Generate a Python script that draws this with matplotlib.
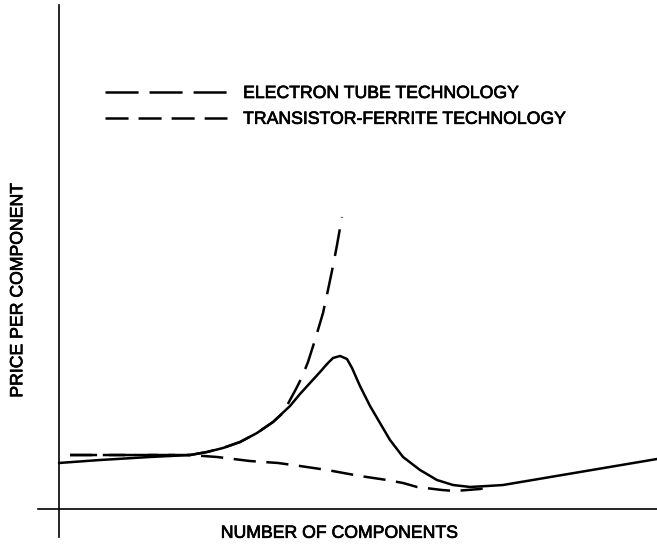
import matplotlib
matplotlib.use("Agg")
import matplotlib.pyplot as plt
import matplotlib.patheffects as pe
from matplotlib.lines import Line2D

plt.rcParams['font.family'] = ['Liberation Sans', 'DejaVu Sans']
plt.rcParams['lines.scale_dashes'] = False

# Schematic data (arbitrary units: x = number of components, y = price per component)
solid_x = [0, 6.86, 15.22, 21.91, 24.75, 27.42, 30.27, 33.11, 35.79, 38.63, 40.30, 41.97,
           43.65, 44.82, 45.82, 47.0, 48.16, 49.0, 50.33, 52.01, 53.68, 55.35, 57.53,
           60.37, 63.21, 65.89, 68.73, 71.57, 74.25, 100]
solid_y = [9.13, 9.72, 10.32, 10.71, 11.31, 12.10, 13.29, 15.08, 17.26, 20.44, 22.82, 25.0,
           27.18, 28.77, 29.96, 30.36, 29.76, 27.98, 24.40, 20.44, 17.06, 13.69, 10.32,
           7.74, 5.75, 4.76, 4.37, 4.56, 4.76, 9.92]

tube_x = [1.84, 15.22, 21.91, 24.75, 27.42, 30.27, 33.11, 35.79, 37.46, 38.63, 39.63,
          40.64, 41.64, 42.81, 44.15, 44.98, 45.82, 46.49, 47.32]
tube_y = [10.71, 10.71, 10.71, 11.31, 12.10, 13.29, 15.08, 17.26, 19.05, 21.63, 23.81,
          26.19, 29.17, 33.53, 38.89, 43.45, 48.21, 52.38, 57.94]

trans_x = [1.84, 15.22, 21.91, 26.42, 31.94, 36.62, 40.30, 44.82, 50.33, 54.85, 57.53,
           59.87, 64.05, 66.22, 70.40, 72.41]
trans_y = [10.71, 10.71, 10.71, 10.32, 9.52, 9.13, 8.53, 7.74, 6.55, 5.75, 5.16,
           4.37, 3.77, 3.57, 3.97, 4.37]

labels = ["ELECTRON TUBE TECHNOLOGY", "TRANSISTOR-FERRITE TECHNOLOGY"]
x_label = "NUMBER OF COMPONENTS"
y_label = "PRICE PER COMPONENT"

fig = plt.figure(figsize=(6.57, 5.55), dpi=100)
ax = fig.add_axes([0, 0, 1, 1])
ax.set_xlim(-9.866, 100)
ax.set_ylim(-9.127, 100.99)

lw = 1.8
ax.plot(solid_x, solid_y, color='black', lw=lw, solid_capstyle='round',
        solid_joinstyle='round')
ax.plot(tube_x, tube_y, color='black', lw=lw, dashes=(19.5, 8.6), dash_joinstyle='round')
ax.plot(trans_x, trans_y, color='black', lw=lw, dashes=(16.0, 7.6), dash_joinstyle='round')

# axes lines
for s in ['top', 'right']:
    ax.spines[s].set_visible(False)
ax.spines['left'].set_position(('data', 0))
ax.spines['bottom'].set_position(('data', 0))
ax.spines['left'].set_bounds(-5.56, 100)
ax.spines['bottom'].set_bounds(-3.51, 100)
ax.spines['left'].set_linewidth(1.2)
ax.spines['bottom'].set_linewidth(1.2)
ax.set_xticks([])
ax.set_yticks([])
ax.patch.set_alpha(0)

fs = 12.7
heavy = [pe.withStroke(linewidth=0.5, foreground='black')]
ax.text(0.517, 0.031, x_label, transform=ax.transAxes, ha='center', va='baseline',
        fontsize=fs, path_effects=heavy)
ax.text(0.027, 0.477, y_label, transform=ax.transAxes, ha='center', va='center',
        rotation=90, fontsize=fs, path_effects=heavy)

h1 = Line2D([], [], color='black', lw=lw, dashes=(23.8, 7.9))
h2 = Line2D([], [], color='black', lw=lw, dashes=(16.6, 7.2))
leg = ax.legend([h1, h2], labels, loc='upper left', bbox_to_anchor=(105 / 657, 1 - 85 / 555),
                bbox_transform=fig.transFigure, frameon=False, fontsize=fs,
                handlelength=6.93, handletextpad=0.9, labelspacing=0.5,
                borderpad=0, borderaxespad=0)
for t in leg.get_texts():
    t.set_path_effects(heavy)

fig.savefig("out.png", dpi=100)
